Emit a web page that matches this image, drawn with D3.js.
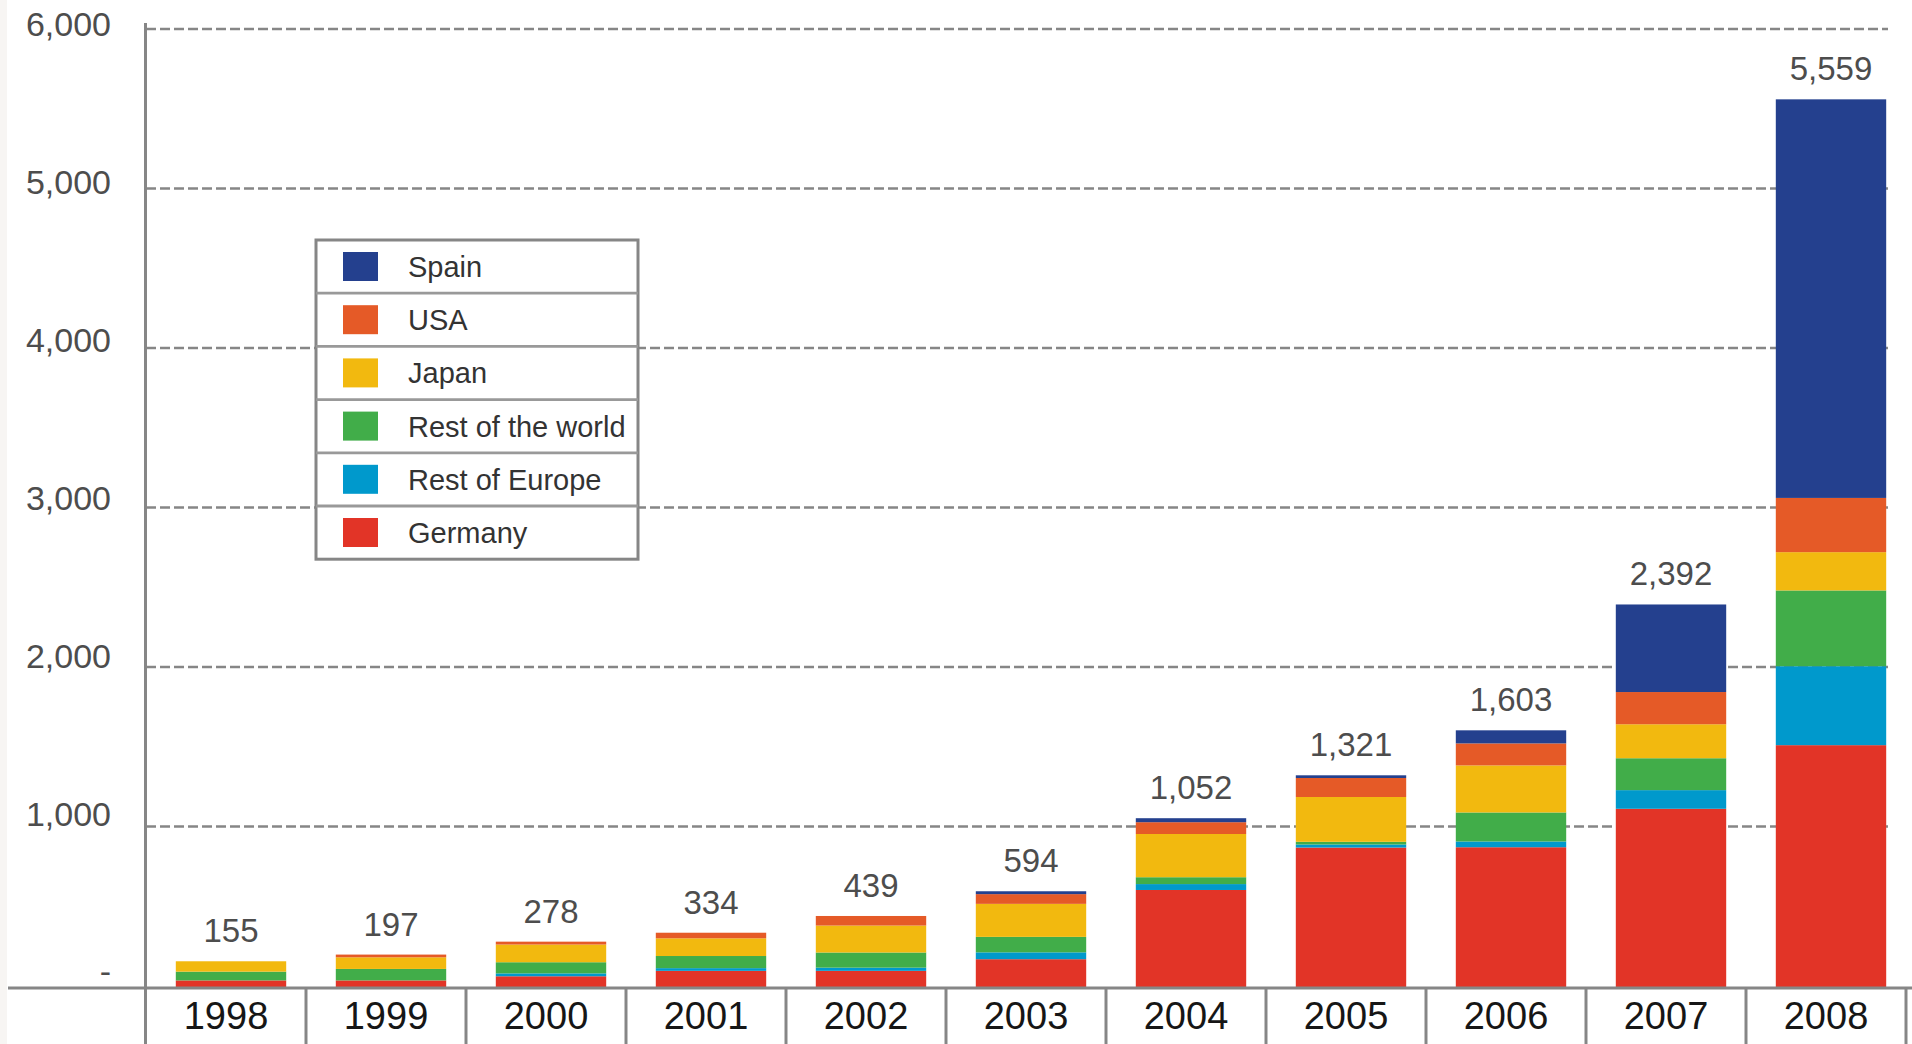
<!DOCTYPE html>
<html>
<head>
<meta charset="utf-8">
<script src="https://cdn.jsdelivr.net/npm/d3@7"></script>
<style>
  body { margin: 0; background: #fff; }
  svg { display: block; font-family: "Liberation Sans", Arial, sans-serif; }
</style>
</head>
<body>
<div id="chart"></div>
<script>
// Years and yearly installed capacity (MW) per market
const years = ["1998", "1999", "2000", "2001", "2002", "2003", "2004", "2005", "2006", "2007", "2008"];
const germany      = [35, 35, 61, 95, 95, 168, 602, 868, 870, 1111, 1510];
const restOfEurope = [0, 0, 18, 17, 20, 43, 37, 19, 36, 117, 495];
const restOfWorld  = [55, 72, 70, 76, 95, 97, 43, 17, 182, 200, 475];
const japan        = [65, 73, 111, 111, 169, 207, 271, 281, 295, 213, 240];
const usa          = [0, 17, 18, 35, 60, 61, 74, 119, 138, 202, 340];
const spain        = [0, 0, 0, 0, 0, 18, 25, 17, 82, 549, 2499];
const totals       = [155, 197, 278, 334, 439, 594, 1052, 1321, 1603, 2392, 5559];
const yTicks       = [0, 1000, 2000, 3000, 4000, 5000, 6000];

// Stack order, bottom to top
const keys = ["Germany", "Rest of Europe", "Rest of the world", "Japan", "USA", "Spain"];
const series = [germany, restOfEurope, restOfWorld, japan, usa, spain];
const colors = {
    "Spain": "#24408e",
    "USA": "#e55a27",
    "Japan": "#f2b90f",
    "Rest of the world": "#41ad49",
    "Rest of Europe": "#0099cc",
    "Germany": "#e23427"
};
// Legend goes top to bottom
const legendKeys = ["Spain", "USA", "Japan", "Rest of the world", "Rest of Europe", "Germany"];

const table = years.map(function(year, i) {
    const row = { year: year, total: totals[i] };
    keys.forEach(function(k, j) { row[k] = series[j][i]; });
    return row;
});

const width = 1912;
const height = 1044;
const axisX = 146;
const baseY = 988;
const gridColor = "#868686";

const svg = d3.select("#chart").append("svg")
    .attr("width", width)
    .attr("height", height);

// faint strip on the far left, like the scanned original
svg.append("rect")
    .attr("x", 0).attr("y", 0)
    .attr("width", 7).attr("height", height)
    .attr("fill", "#f7f5f3");

const y = d3.scaleLinear().domain([0, 6000]).range([986, 29]);
// the printed tick labels sit a bit above their gridlines, evenly spaced
const yLabel = d3.scaleLinear().domain([0, 6000]).range([972, 25]);

// one cell per year (for the boxes under the axis) and a narrower band for the bars
const xCell = d3.scaleBand().domain(years).range([axisX, 1906]);
const xBar = d3.scaleBand().domain(years).range([axisX, 1906])
    .paddingInner(0.31).paddingOuter(0.155);
const barShift = 5;

// Dashed gridlines
svg.append("g")
    .selectAll("line")
    .data(yTicks.filter(d => d > 0))
    .enter()
    .append("line")
    .attr("x1", axisX)
    .attr("x2", 1888)
    .attr("y1", d => y(d))
    .attr("y2", d => y(d))
    .attr("stroke", gridColor)
    .attr("stroke-width", 2.6)
    .attr("stroke-dasharray", "10,4");

// Stacked bars
const stacked = d3.stack().keys(keys)(table);
const bottomOf = d => d[0] === 0 ? baseY : y(d[0]);

svg.append("g")
    .selectAll("g")
    .data(stacked)
    .enter()
    .append("g")
    .attr("fill", d => colors[d.key])
    .selectAll("rect")
    .data(d => d.filter(s => s[1] > s[0]))
    .enter()
    .append("rect")
    .attr("x", d => xBar(d.data.year) + barShift)
    .attr("width", xBar.bandwidth())
    .attr("y", d => y(d[1]))
    .attr("height", d => bottomOf(d) - y(d[1]));

// Totals above the bars
svg.append("g")
    .selectAll("text")
    .data(table)
    .enter()
    .append("text")
    .attr("x", d => xBar(d.year) + barShift + xBar.bandwidth() / 2)
    .attr("y", d => y(d.total) - 19)
    .attr("text-anchor", "middle")
    .attr("font-size", 33)
    .attr("fill", "#4d4d4d")
    .text(d => d3.format(",")(d.total));

// Y axis labels
const yAxis = svg.append("g")
    .attr("transform", "translate(111,0)")
    .call(d3.axisLeft(yLabel)
        .tickValues(yTicks)
        .tickSize(0)
        .tickPadding(0)
        .tickFormat(d => d === 0 ? "-" : d3.format(",")(d)));
yAxis.select(".domain").remove();
yAxis.selectAll("text")
    .attr("font-size", 34)
    .attr("fill", "#4d4d4d")
    .attr("font-family", "Liberation Sans, Arial, sans-serif");

// X axis labels (years)
const xAxis = svg.append("g")
    .attr("transform", "translate(0," + baseY + ")")
    .call(d3.axisBottom(xCell).tickSize(0).tickPadding(14));
xAxis.select(".domain").remove();
xAxis.selectAll("text")
    .attr("font-size", 38)
    .attr("fill", "#161616")
    .attr("font-family", "Liberation Sans, Arial, sans-serif");

// Axis lines and the boxes under the bars
svg.append("line")
    .attr("x1", 8).attr("x2", width)
    .attr("y1", baseY).attr("y2", baseY)
    .attr("stroke", gridColor).attr("stroke-width", 3);

svg.append("line")
    .attr("x1", axisX - 0.5).attr("x2", axisX - 0.5)
    .attr("y1", 23).attr("y2", height)
    .attr("stroke", gridColor).attr("stroke-width", 3);

svg.append("g")
    .selectAll("line")
    .data(years)
    .enter()
    .append("line")
    .attr("x1", d => xCell(d) + xCell.bandwidth())
    .attr("x2", d => xCell(d) + xCell.bandwidth())
    .attr("y1", baseY)
    .attr("y2", height)
    .attr("stroke", gridColor)
    .attr("stroke-width", 3);

// Legend
const legendX = 316, legendY = 240, legendW = 322, rowH = 53.2;
const legend = svg.append("g");

legend.append("rect")
    .attr("x", legendX).attr("y", legendY)
    .attr("width", legendW).attr("height", rowH * legendKeys.length)
    .attr("fill", "#fff")
    .attr("stroke", gridColor)
    .attr("stroke-width", 3);

const rows = legend.selectAll("g.row")
    .data(legendKeys)
    .enter()
    .append("g")
    .attr("class", "row")
    .attr("transform", (d, i) => "translate(" + legendX + "," + (legendY + i * rowH) + ")");

rows.filter((d, i) => i > 0)
    .append("line")
    .attr("x1", 0).attr("x2", legendW)
    .attr("y1", 0).attr("y2", 0)
    .attr("stroke", "#999")
    .attr("stroke-width", 2.8);

rows.append("rect")
    .attr("x", 27).attr("y", 12)
    .attr("width", 35).attr("height", 29)
    .attr("fill", d => colors[d]);

rows.append("text")
    .attr("x", 92)
    .attr("y", rowH / 2)
    .attr("dy", "0.36em")
    .attr("font-size", 29)
    .attr("fill", "#333")
    .text(d => d);
</script>
</body>
</html>
